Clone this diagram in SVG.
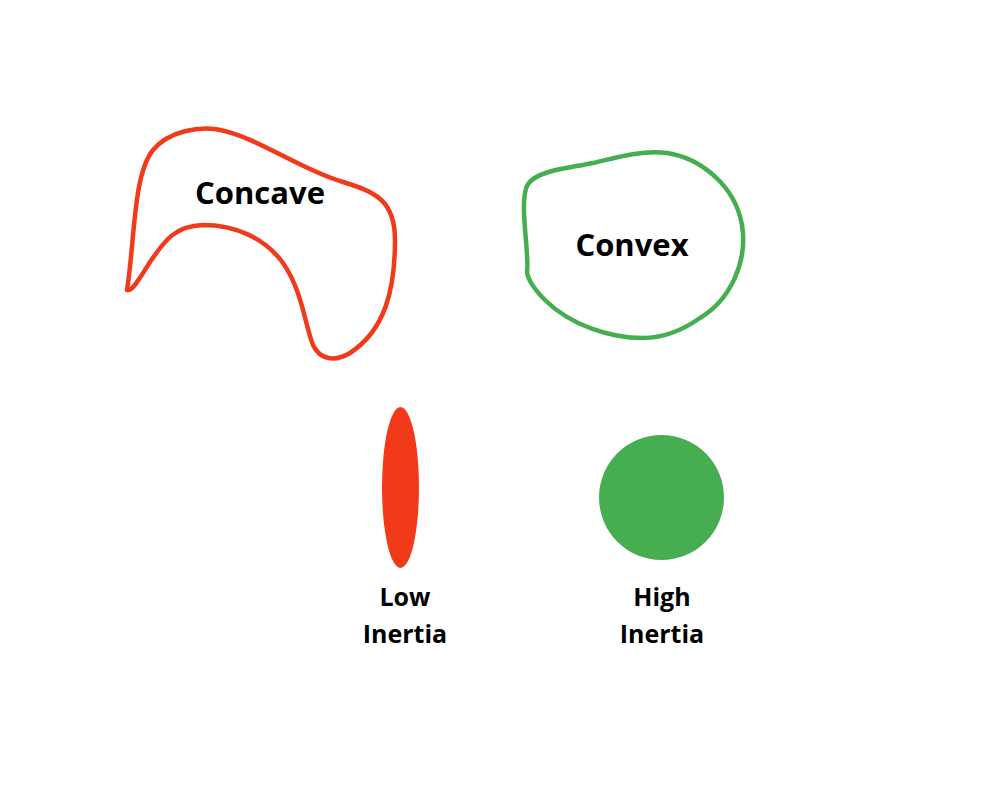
<svg xmlns="http://www.w3.org/2000/svg" width="994" height="792" viewBox="0 0 994 792">
<style>
.lbl{font-family:"Open Sans","Liberation Sans",sans-serif;font-weight:bold;fill:#000;text-anchor:middle}
.big{font-size:31px}
.small{font-size:25px}
.outline{fill:none;stroke-width:4.5;stroke-linejoin:round;stroke-linecap:round}
</style>
<rect width="994" height="792" fill="#fff"/>
<g id="concave">
<path class="outline" stroke="#F03A1A" d="M127,290 C135,240 133,175 153,150 C170,130 200,127 215,129 C255,135 300,170 343,182 C375,192 395,200 395,240 C395,290 385,330 350,353 C335,362 320,360 313,345 C305,325 302,290 283,263 C265,238 235,225 203,225 C175,226 165,240 150,262 C140,278 132,292 127,290 Z"/>
<text class="lbl big" x="260" y="204">Concave</text>
</g>
<g id="convex">
<path class="outline" stroke="#46AE50" d="M527,272 C530,255 518,200 528,184 C538,170 570,168 593,163 C615,158 640,150 667,153 C700,158 735,185 742,225 C748,262 730,300 700,318 C680,332 660,338 643,338 C610,338 570,325 545,300 C535,290 528,280 527,272 Z"/>
<text class="lbl big" x="632" y="256">Convex</text>
</g>
<g id="low-inertia">
<ellipse cx="400.5" cy="487.5" rx="18.5" ry="80.5" fill="#F03A1A"/>
<text class="lbl small" x="405" y="606">Low</text>
<text class="lbl small" x="405" y="643">Inertia</text>
</g>
<g id="high-inertia">
<circle cx="661.5" cy="497.5" r="62.5" fill="#46AE50"/>
<text class="lbl small" x="662" y="606">High</text>
<text class="lbl small" x="662" y="643">Inertia</text>
</g>
<g id="connectors"/>
</svg>
